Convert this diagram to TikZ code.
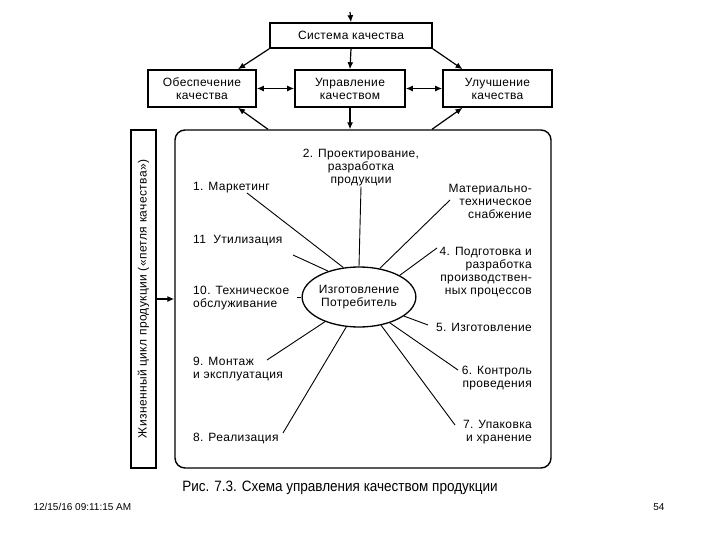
\documentclass[tikz,border=0pt]{standalone}
\usepackage{fontspec}
\setmainfont{Liberation Sans}
\newfontfamily\scanfont{Liberation Sans}[LetterSpace=3]
\newfontfamily\capfont{Liberation Sans}[FakeStretch=0.9]
\usetikzlibrary{shapes.geometric,arrows.meta}

\begin{document}
\begin{tikzpicture}[x=1pt, y=-1pt,
    box/.style={draw, line width=1.6pt, inner sep=0pt, align=center,
      font=\scanfont\fontsize{12}{13}\selectfont},
    hub/.style={ellipse, draw, line width=1.3pt, minimum width=106pt,
      minimum height=60pt, inner sep=0pt, align=center,
      font=\scanfont\fontsize{12}{13}\selectfont},
    stage/.style={inner sep=0pt, font=\scanfont\fontsize{12}{13}\selectfont},
    link/.style={-{Latex[length=7pt,width=6pt]}, line width=1.2pt},
    duplex/.style={{Latex[length=7pt,width=6pt]}-{Latex[length=7pt,width=6pt]}, line width=1.2pt},
    spoke/.style={line width=0.9pt},
  ]
  \useasboundingbox (0,0) rectangle (720,540);

  % quality system
  \node[box, minimum width=162pt, minimum height=25pt] (sys) at (351,35.5) {Система качества};
  \node[box, minimum width=108pt, minimum height=37pt] (assure) at (202,88.5) {Обеспечение\\качества};
  \node[box, minimum width=110pt, minimum height=37pt] (manage) at (350,88.5) {Управление\\качеством};
  \node[box, minimum width=109pt, minimum height=37pt] (improve) at (497.5,88.5) {Улучшение\\качества};

  % life cycle
  \node[draw, line width=1.4pt, rounded corners=10pt, minimum width=376pt,
    minimum height=338pt] (cycle) at (363,299) {};
  \node[draw, line width=1.4pt, rotate=90, minimum width=338pt, minimum height=25pt,
    inner sep=0pt, font=\scanfont\fontsize{12}{13}\selectfont] (life) at (143.5,299)
    {Жизненный цикл продукции («петля качества»)};

  \coordinate (feed) at (350,12);
  \draw[link] (feed) -- (sys.north);
  \draw[link] (sys.south west) -- ([xshift=36pt]assure.north);
  \draw[link] (sys.south) -- (manage.north);
  \draw[link] (sys.south east) -- ([xshift=-35pt]improve.north);
  \draw[duplex] (assure) -- (manage);
  \draw[duplex] (manage) -- (improve);
  \draw[link] (manage.south) -- (manage.south |- cycle.north);
  \draw[link] ([xshift=-95pt]cycle.north) -- ([xshift=36pt]assure.south);
  \draw[link] ([xshift=69pt]cycle.north) -- ([xshift=-35pt]improve.south);
  \draw[link] (life.south) -- (life.south -| cycle.west);

  % stages round the centre
  \node[hub] (hub) at (359,297) {Изготовление\\Потребитель};

  \node[stage, anchor=west] (s1) at (193,188) {1. Маркетинг};
  \node[stage, align=center] (s2) at (361,168) {2. Проектирование,\\разработка\\продукции};
  \node[stage, anchor=east, align=right] (s3) at (532,201) {Материально-\\техническое\\снабжение};
  \node[stage, anchor=east, align=right] (s4) at (532,272) {4. Подготовка и\\разработка\\производствен-\\ных процессов};
  \node[stage, anchor=east] (s5) at (532,327) {5. Изготовление};
  \node[stage, anchor=east, align=right] (s6) at (532,378) {6. Контроль\\проведения};
  \node[stage, anchor=east, align=right] (s7) at (532,432) {7. Упаковка\\и хранение};
  \node[stage, anchor=west] (s8) at (193,439) {8. Реализация};
  \node[stage, anchor=west, align=left] (s9) at (193,369) {9. Монтаж\\и эксплуатация};
  \node[stage, anchor=west, align=left] (s10) at (193,298) {10. Техническое\\обслуживание};
  \node[stage, anchor=west] (s11) at (193,241) {11\ \ Утилизация};

  \coordinate (t1) at (247,193);
  \coordinate (t3) at (450,200);
  \coordinate (t4) at (437,248);
  \coordinate (t5) at (428,325);
  \coordinate (t6) at (458,370);
  \coordinate (t7) at (455,425);
  \coordinate (t8) at (283,433);
  \coordinate (t9) at (267,360);
  \coordinate (t10) at (297,297);
  \coordinate (t11) at (293,255);

  \draw[spoke] (t1) -- (hub.118);
  \draw[spoke] (s2.south) -- (hub.north);
  \draw[spoke] (t3) -- (hub.54);
  \draw[spoke] (t4) -- (hub.28);
  \draw[spoke] (t5) -- (hub.-23);
  \draw[spoke] (t6) -- (hub.-40);
  \draw[spoke] (t7) -- (hub.-52);
  \draw[spoke] (t8) -- (hub.-113);
  \draw[spoke] (t9) -- (hub.-144);
  \draw[spoke] (t10) -- (hub.180);
  \draw[spoke] (t11) -- (hub.140);

  % caption and slide footer
  \node[font=\capfont\fontsize{15}{17}\selectfont] (cap) at (340,488)
    {Рис. 7.3. Схема управления качеством продукции};
  \node[anchor=west, font=\fontsize{10}{12}\selectfont] (date) at (30,507) {12/15/16 09:11:15 AM};
  \node[anchor=east, font=\fontsize{10}{12}\selectfont] (page) at (668,507) {54};
\end{tikzpicture}
\end{document}
